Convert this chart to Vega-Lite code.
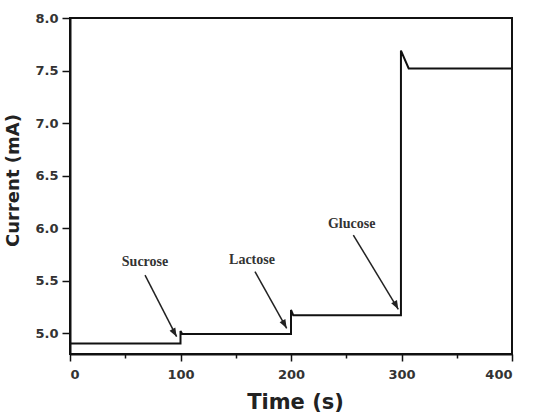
{
  "$schema": "https://vega.github.io/schema/vega-lite/v6.json",
  "autosize": "none",
  "width": 442,
  "height": 336,
  "padding": {"left": 70, "top": 18, "right": 27, "bottom": 58},
  "background": "white",
  "config": {
    "view": {"stroke": "#111", "strokeWidth": 2},
    "axis": {
      "domainColor": "#111", "domainWidth": 2, "tickColor": "#111", "tickWidth": 1.5,
      "grid": false, "labelFont": "DejaVu Sans", "labelFontWeight": "bold", "labelFontSize": 13,
      "labelColor": "#333", "titleFont": "DejaVu Sans", "titleFontWeight": "bold", "titleColor": "#222"
    }
  },
  "datasets": {
    "curve": [
      {"i": 0, "t": 0, "v": 4.9},
      {"i": 1, "t": 100, "v": 4.9},
      {"i": 2, "t": 100, "v": 5.02},
      {"i": 3, "t": 101.5, "v": 4.99},
      {"i": 4, "t": 200, "v": 4.99},
      {"i": 5, "t": 200, "v": 5.22},
      {"i": 6, "t": 202, "v": 5.17},
      {"i": 7, "t": 299.5, "v": 5.17},
      {"i": 8, "t": 299.5, "v": 7.69},
      {"i": 9, "t": 306.5, "v": 7.52},
      {"i": 10, "t": 400, "v": 7.52}
    ],
    "notes": [
      {"label": "Sucrose", "tx": 67.9, "ty": 5.68, "t": 67.9, "v": 5.552, "t2": 96.5, "v2": 4.965},
      {"label": "Lactose", "tx": 164.7, "ty": 5.695, "t": 167.4, "v": 5.584, "t2": 196.1, "v2": 5.045},
      {"label": "Glucose", "tx": 254.9, "ty": 6.04, "t": 256.4, "v": 5.933, "t2": 297.1, "v2": 5.226}
    ]
  },
  "layer": [
    {
      "data": {"name": "curve"},
      "mark": {"type": "line", "color": "#111", "strokeWidth": 2, "interpolate": "linear"},
      "encoding": {
        "x": {
          "field": "t", "type": "quantitative",
          "scale": {"domain": [0, 400], "nice": false},
          "axis": {
            "title": "Time (s)", "titleFontSize": 21, "titlePadding": 10, "titleX": 225,
            "values": [0, 50, 100, 150, 200, 250, 300, 350, 400],
            "labelExpr": "datum.value % 100 === 0 ? datum.label : ''",
            "tickSize": {"condition": {"test": "datum.value % 100 === 0", "value": 7}, "value": 4},
            "labelPadding": 7
          }
        },
        "y": {
          "field": "v", "type": "quantitative",
          "scale": {"domain": [4.8, 8.0], "nice": false, "zero": false},
          "axis": {
            "title": "Current (mA)", "titleFontSize": 18, "titlePadding": 12, "titleY": 162,
            "values": [5.0, 5.25, 5.5, 5.75, 6.0, 6.25, 6.5, 6.75, 7.0, 7.25, 7.5, 7.75, 8.0],
            "format": ".1f",
            "labelExpr": "abs(datum.value * 2 - round(datum.value * 2)) < 0.001 ? datum.label : ''",
            "tickSize": {"condition": {"test": "abs(datum.value * 2 - round(datum.value * 2)) < 0.001", "value": 8}, "value": 5},
            "labelPadding": 4
          }
        },
        "order": {"field": "i", "type": "quantitative"}
      }
    },
    {
      "data": {"name": "notes"},
      "mark": {"type": "rule", "color": "#222", "strokeWidth": 1.5},
      "encoding": {
        "x": {"field": "t", "type": "quantitative"},
        "y": {"field": "v", "type": "quantitative"},
        "x2": {"field": "t2"},
        "y2": {"field": "v2"}
      }
    },
    {
      "data": {"name": "notes"},
      "mark": {"type": "point", "shape": "M0,0L-0.38,1L0.38,1Z", "filled": true, "color": "#222", "opacity": 1, "size": 300, "angle": 151},
      "encoding": {
        "x": {"field": "t2", "type": "quantitative"},
        "y": {"field": "v2", "type": "quantitative"}
      }
    },
    {
      "data": {"name": "notes"},
      "mark": {"type": "text", "font": "Liberation Serif", "fontWeight": "bold", "fontSize": 14, "color": "#333", "align": "center", "baseline": "middle"},
      "encoding": {
        "x": {"field": "tx", "type": "quantitative"},
        "y": {"field": "ty", "type": "quantitative"},
        "text": {"field": "label"}
      }
    }
  ]
}
